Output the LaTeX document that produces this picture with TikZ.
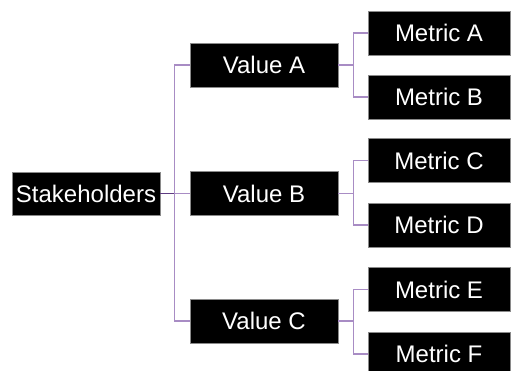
\documentclass[tikz,border=0pt]{standalone}
\usepackage{fontspec}
\setmainfont{Liberation Sans}
\definecolor{branch}{HTML}{A88CC4}
\definecolor{stub}{HTML}{5E3C82}
\definecolor{edge}{HTML}{8A8A8A}
\begin{document}
\begin{tikzpicture}[x=1pt,y=-1pt,
  box/.style={draw=edge,line width=0.6pt,fill=black,text=white,font=\fontsize{24}{24}\selectfont,
    inner sep=0pt,anchor=center},
  rootbox/.style={box,minimum width=148,minimum height=43},
  valbox/.style={box,minimum width=148,minimum height=44},
  metbox/.style={box,minimum width=142,minimum height=44},
  link/.style={draw=branch,line width=1.3pt},
  rootlink/.style={draw=stub,line width=1.3pt}]
\useasboundingbox (0,0) rectangle (511,370);
% root
\node[rootbox] (s) at (86,193.5) {Stakeholders};
% values
\node[valbox] (va) at (264,65) {Value A};
\node[valbox] (vb) at (264,193.5) {Value B};
\node[valbox] (vc) at (264,321) {Value C};
% metrics
\node[metbox] (ma) at (439,33) {Metric A};
\node[metbox] (mb) at (439,97) {Metric B};
\node[metbox] (mc) at (439,160.5) {Metric C};
\node[metbox] (md) at (439,225) {Metric D};
\node[metbox] (me) at (439,289.5) {Metric E};
\node[metbox] (mf) at (439,354) {Metric F};
% root to values
\coordinate (j) at ([xshift=14]s.east);
\draw[link] (j |- va.west) -- (j |- vc.west);
\draw[link] (j |- va.west) -- (va.west);
\draw[link] (j |- vc.west) -- (vc.west);
\draw[link] (j) -- (vb.west);
\draw[rootlink] (s.east) -- (j);
% values to metrics
\foreach \v/\a/\b in {va/ma/mb, vb/mc/md, vc/me/mf}{
  \draw[link] (\v.east) -- ++(15,0) |- (\a.west);
  \draw[link] (\v.east) -- ++(15,0) |- (\b.west);
}
\end{tikzpicture}
\end{document}
